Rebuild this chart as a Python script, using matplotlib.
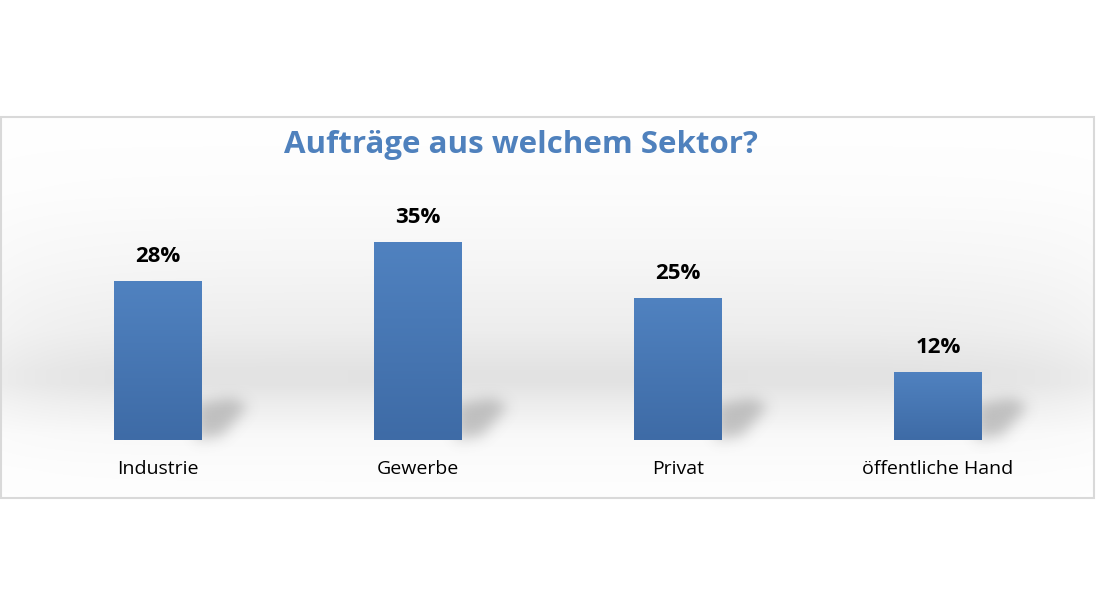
import numpy as np
import matplotlib.pyplot as plt
from matplotlib.patches import Rectangle
from matplotlib.path import Path

# data
categories = ['Industrie', 'Gewerbe', 'Privat', 'öffentliche Hand']
shares = [28, 35, 25, 12]
title = 'Aufträge aus welchem Sektor?'

W, H = 1096, 616
fig = plt.figure(figsize=(W / 100, H / 100), dpi=100)

# background axes in pixel coordinates
bg = fig.add_axes([0, 0, 1, 1])
bg.set_xlim(0, W)
bg.set_ylim(H, 0)
bg.axis('off')

# vertical grey gradient inside the chart box
ys = np.linspace(117, 498, 400)
kp_y = [117, 190, 260, 330, 370, 384, 405, 435, 470, 498]
kp_v = [1.0, 0.99, 0.965, 0.93, 0.89, 0.89, 0.93, 0.975, 0.99, 0.995]
v = np.interp(ys, kp_y, kp_v)
xs = np.linspace(0, 1, 300)
edge = 1 - 0.35 * np.exp(-(xs / 0.06)) - 0.35 * np.exp(-((1 - xs) / 0.06))
img = 1 - (1 - v[:, None]) * edge[None, :]
bg.imshow(np.dstack([img, img, img]), extent=(1, 1095, 498, 117),
          aspect='auto', interpolation='bilinear', zorder=0)
bg.add_patch(Rectangle((1, 117), 1093, 381, fill=False, edgecolor='#d9d9d9', lw=1.5, zorder=1))

fig.text(521 / W, 1 - 145 / H, title, ha='center', va='center', fontsize=22.5,
         fontweight='bold', color='#4f81bd', family='Open Sans')

# main axes
ax = fig.add_axes([28 / W, 1 - 440 / H, 1040 / W, 260 / H])
ax.set_xlim(-0.5, 3.5)
ax.set_ylim(0, 260 / 5.67)
ax.patch.set_visible(False)
ax.axis('off')

x = np.arange(len(categories))
bw = 0.335
bars = ax.bar(x, shares, width=bw, color='none', zorder=3)


def blur1d(a, sigma, axis):
    r = int(3 * sigma)
    k = np.exp(-0.5 * (np.arange(-r, r + 1) / sigma) ** 2)
    k /= k.sum()
    return np.apply_along_axis(lambda m: np.convolve(m, k, mode='same'), axis, a)


grad = np.linspace(0, 1, 256)[:, None]
blue_top = np.array([0x50, 0x82, 0xc0]) / 255
blue_bot = np.array([0x3e, 0x6b, 0xa6]) / 255
for b in bars:
    x0, w, h = b.get_x(), b.get_width(), b.get_height()
    # soft shadow behind the bar, drawn on the background in pixels
    xr_disp, yb_disp = ax.transData.transform((x0 + w, 0))
    xr, yb = xr_disp, H - yb_disp
    gx = np.arange(xr - 30, xr + 80)
    gy = np.arange(yb - 70, yb + 15)
    GX, GY = np.meshgrid(gx, gy)
    poly = Path([(xr - 6, yb), (xr - 6, yb - 36), (xr + 30, yb - 42),
                 (xr + 46, yb - 34), (xr + 20, yb - 4), (xr - 6, yb)])
    mask = poly.contains_points(np.c_[GX.ravel(), GY.ravel()]).reshape(GX.shape).astype(float)
    mask = blur1d(blur1d(mask, 7, 0), 7, 1)
    rgba = np.zeros(mask.shape + (4,))
    rgba[..., :3] = 0.4
    rgba[..., 3] = 0.36 * mask
    bg.imshow(rgba, extent=(gx[0], gx[-1], gy[-1], gy[0]), aspect='auto',
              interpolation='bilinear', zorder=2)

    col = blue_bot + (blue_top - blue_bot) * grad
    im = ax.imshow(np.repeat(col[:, None, :], 2, axis=1).reshape(256, 2, 3),
                   extent=(x0, x0 + w, 0, h), origin='lower', aspect='auto',
                   zorder=3)
    clip = Rectangle((x0, 0), w, h, transform=ax.transData)
    im.set_clip_path(clip)
    ax.text(x0 + w / 2, h + 14 / 5.67, f'{h:.0f}%', ha='center', va='bottom',
            fontsize=16, fontweight='bold', color='black', family='Open Sans')

for xi, c in zip(x, categories):
    ax.text(xi, -29 / 5.67, c, ha='center', va='center', fontsize=14,
            color='black', family='Open Sans')

bg.set_xlim(0, W)
bg.set_ylim(H, 0)
ax.set_xlim(-0.5, 3.5)
ax.set_ylim(0, 260 / 5.67)

fig.savefig('out.png', dpi=100)
